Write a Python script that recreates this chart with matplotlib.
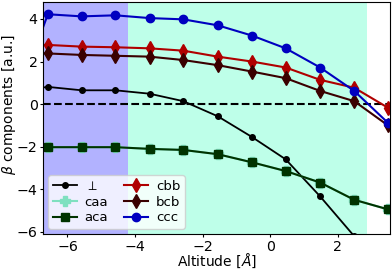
import matplotlib
matplotlib.use("Agg")
import matplotlib.pyplot as plt
import numpy as np

altitude = [-7.6, -6.58, -5.58, -4.58, -3.57, -2.57, -1.55, -0.54, 0.46, 1.48, 2.49, 3.49]
perp = [0.6, 0.81, 0.65, 0.65, 0.49, 0.14, -0.57, -1.54, -2.59, -4.33, -6.2, -9.0]
caa = [-2.02, -2.02, -2.02, -2.02, -2.10, -2.15, -2.35, -2.73, -3.14, -3.68, -4.49, -4.94]
aca = [-2.02, -2.02, -2.02, -2.02, -2.10, -2.15, -2.35, -2.73, -3.14, -3.68, -4.49, -4.94]
cbb = [2.78, 2.78, 2.70, 2.67, 2.62, 2.51, 2.23, 2.00, 1.72, 1.14, 0.77, -0.17]
bcb = [2.38, 2.38, 2.31, 2.27, 2.23, 2.07, 1.83, 1.53, 1.22, 0.62, 0.14, -1.0]
ccc = [-0.2, 4.22, 4.12, 4.17, 4.04, 3.98, 3.70, 3.22, 2.62, 1.72, 0.62, -0.88]

region1 = (-7.0, -4.2)
region2 = (-4.2, 2.87)

fig = plt.figure(figsize=(3.92, 2.70), dpi=100)
ax = fig.add_axes([0.11, 0.133, 0.885, 0.86])

ax.axvspan(*region1, color="blue", alpha=0.3, lw=0)
ax.axvspan(*region2, color="aquamarine", alpha=0.5, lw=0)
ax.axhline(0, color="black", ls="--", lw=1.5)

ax.plot(altitude, perp, "-o", color="black", ms=4, lw=1.3, label=r"$\perp$")
ax.plot(altitude, caa, "-P", color="#7fe0c0", ms=7, lw=1.5, label="caa")
ax.plot(altitude, aca, "-s", color="#003300", ms=6, lw=1.5, label="aca")
ax.plot(altitude, cbb, "-d", color="#b00000", ms=7, lw=1.5, label="cbb")
ax.plot(altitude, bcb, "-d", color="#3a0000", ms=7, lw=1.5, label="bcb")
ax.plot(altitude, ccc, "-o", color="#0000c0", ms=6, lw=1.5, label="ccc")

ax.set_xlim(-6.72, 3.55)
ax.set_ylim(-6.1, 4.8)
ax.set_xticks([-6, -4, -2, 0, 2])
ax.set_yticks([-6, -4, -2, 0, 2, 4])
ax.tick_params(labelsize=10.2, pad=1.5, length=2.5)
ax.set_xlabel(r"Altitude [$\AA$]", fontsize=10)
ax.set_ylabel(r"$\beta$ components [a.u.]", fontsize=10)
ax.xaxis.set_label_coords(0.5, -0.078)
ax.yaxis.set_label_coords(-0.072, 0.56)
ax.legend(ncol=2, loc="lower left", fontsize=9.5, handlelength=1.8, borderaxespad=0.4,
          columnspacing=1.2, handletextpad=0.6, labelspacing=0.2, borderpad=0.35)

fig.savefig("out.png", dpi=100)
